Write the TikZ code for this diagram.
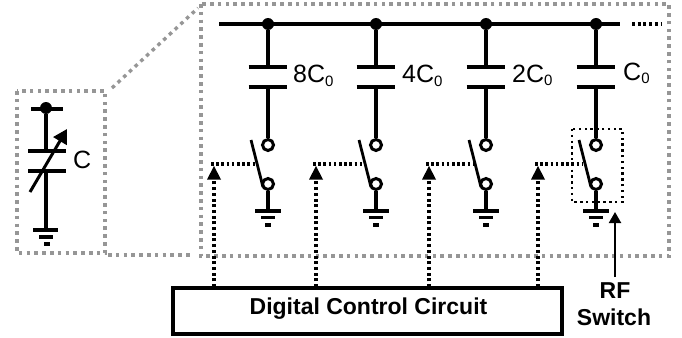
\documentclass[tikz,border=0pt]{standalone}
\usepackage{fontspec}
\setmainfont{Liberation Sans}
\usetikzlibrary{arrows.meta}
\tikzset{
 x=1pt,y=-1pt,
 wire/.style={line width=3.1pt,black},
 plate/.style={line width=3.7pt,black},
 gplate/.style={line width=3.4pt,black},
 term/.style={circle,draw=black,line width=3pt,fill=white,minimum size=11pt,inner sep=0pt},
 junction/.style={circle,fill=black,minimum size=12pt,inner sep=0pt},
 greydot/.style={line width=3.4pt,draw={rgb,255:red,150;green,150;blue,150},dash pattern=on 3.6pt off 4.2pt},
 ctrlv/.style={line width=3.4pt,black,dash pattern=on 3pt off 2.7pt},
 ctrlh/.style={line width=3.1pt,black,dash pattern=on 2.6pt off 2.6pt},
 thindot/.style={line width=2.2pt,black,dash pattern=on 2.4pt off 3.4pt},
 lbl/.style={font=\fontsize{25}{28}\selectfont,inner sep=0pt,anchor=base west},
 blbl/.style={font=\bfseries\fontsize{23}{26}\selectfont,inner sep=0pt,anchor=base},
}
\newcommand{\subzero}{\raisebox{-3.5pt}{\fontsize{15}{15}\selectfont 0}}
\begin{document}
\begin{tikzpicture}
\useasboundingbox (0,0) rectangle (682,337);
% dotted enclosures
\draw[greydot] (201,4) rectangle (669,256);
\draw[greydot] (17,91) rectangle (105,253);
\coordinate (zoomA) at (112,88);
\coordinate (zoomB) at (198,8);
\coordinate (zoomC) at (108,255);
\coordinate (zoomD) at (192,255);
\draw[greydot] (zoomA) -- (zoomB);
\draw[greydot] (zoomC) -- (zoomD);
% bus
\coordinate (busL) at (219,24);
\coordinate (busR) at (620,24);
\coordinate (dotsL) at (632,24);
\coordinate (dotsR) at (662,24);
\draw[wire] (busL) -- (busR);
\draw[ctrlv] (dotsL) -- (dotsR);
% control box
\node[draw=black,line width=3.3pt,minimum width=389pt,minimum height=46pt,inner sep=0pt] (dcc) at (367.5,311) {};
\node[blbl] (dcct) at (368.5,314) {Digital Control Circuit};
% branches
\foreach \n/\x/\c/\lab/\lx/\ly in {a/268/214/8C/293/82.5,b/376/316/4C/402/82.5,c/486/429/2C/512/82,d/596/538/C/623/80}{
  \coordinate (top\n) at (\x,24);
  \node[junction] (j\n) at (top\n) {};
  \coordinate (p1\n) at (\x,67);
  \coordinate (p2\n) at (\x,87);
  \draw[wire] (j\n) -- (p1\n);
  \draw[plate] (\x-19.5,67) -- (\x+19,67);
  \draw[plate] (\x-19.5,87) -- (\x+19,87);
  \coordinate (bt\n) at (\x-17,140);
  \coordinate (bb\n) at (\x-5,187);
  \draw[line width=2.8pt,black] (bt\n) -- (bb\n);
  \node[term] (s1\n) at (\x,145) {};
  \node[term] (s2\n) at (\x,184) {};
  \draw[wire] (p2\n) -- (s1\n);
  \coordinate (g\n) at (\x,211);
  \draw[wire] (s2\n) -- (g\n);
  \draw[gplate] (\x-13,211) -- (\x+13,211);
  \draw[gplate] (\x-7,217.5) -- (\x+7,217.5);
  \draw[gplate] (\x-3,225) -- (\x+3,225);
  \coordinate (cc\n) at (\c,164);
  \coordinate (cm\n) at (\x-13,164);
  \draw[ctrlh] (\c-3,164) -- (cm\n);
  \coordinate (cb\n) at (\c,287);
  \draw[ctrlv] (cb\n) -- (\c,178);
  \fill (\c,166) -- (\c+7,179.5) -- (\c-7,179.5) -- cycle;
  \node[lbl] (l\n) at (\lx,\ly) {\lab\subzero};
}
% RF switch
\draw[thindot] (572,129) rectangle (622.5,202);
\node[blbl] (rf) at (615,298) {RF};
\node[blbl] (sw) at (614,325) {Switch};
\coordinate (rfa) at (615,212);
\coordinate (rfb) at (615,277);
\draw[line width=2pt,black,-{Triangle[length=11pt,width=12pt]}] (rfb) -- (rfa);
% tunable capacitor
\draw[wire] (31,109) -- (63,109);
\node[junction] (vj) at (46,108) {};
\coordinate (vp1) at (46,151);
\coordinate (vp2) at (46,171);
\coordinate (vg) at (46,230);
\draw[wire] (vj) -- (vp1);
\draw[wire] (vp2) -- (vg);
\draw[plate] (28,151) -- (66,151);
\draw[plate] (28,171) -- (66,171);
\draw[gplate] (33,230) -- (58,230);
\draw[gplate] (39,237) -- (53,237);
\draw[gplate] (44,244) -- (50,244);
\coordinate (ta) at (30,192);
\coordinate (tb) at (67,129);
\draw[line width=3pt,black,-{Triangle[length=14pt,width=15pt]}] (ta) -- (tb);
\node[lbl] (cl) at (73,168) {C};
\end{tikzpicture}
\end{document}
